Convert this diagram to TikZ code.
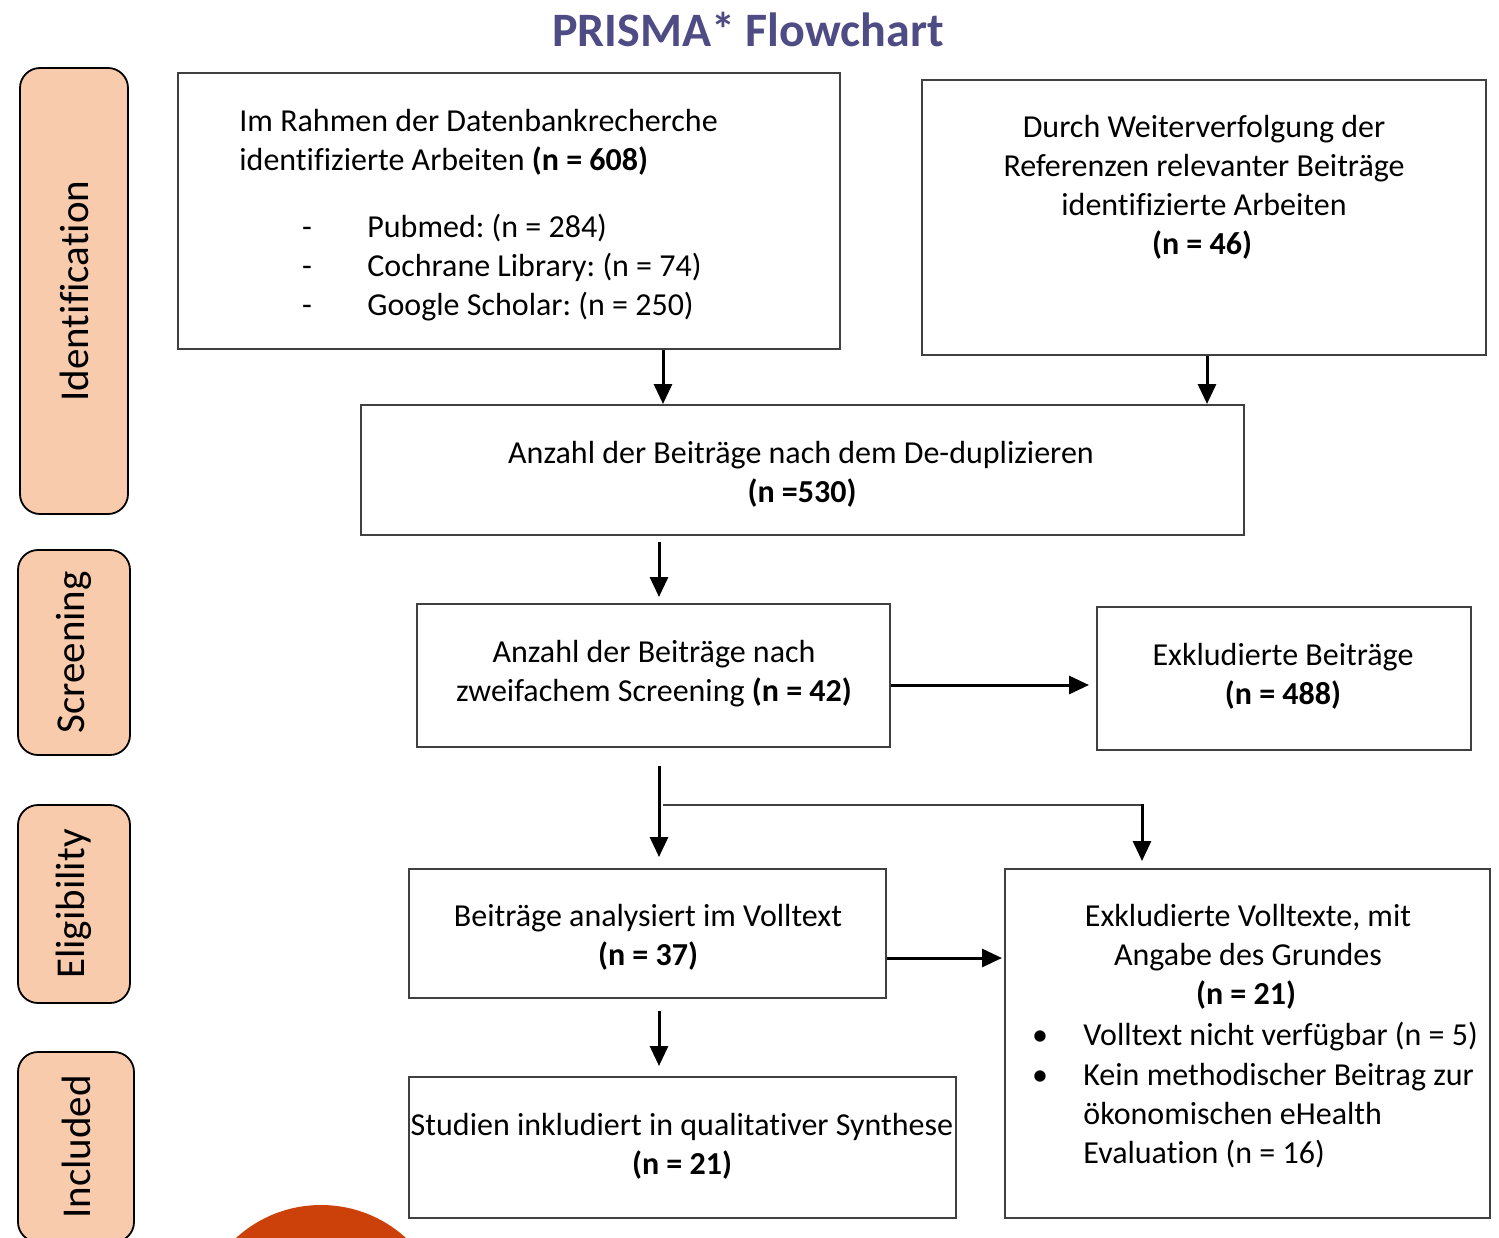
\documentclass[tikz,border=0pt]{standalone}
\usepackage{fontspec}
\setmainfont[Ligatures=NoCommon]{Carlito}
\usetikzlibrary{arrows.meta}
\frenchspacing
\definecolor{peach}{HTML}{F8CBAD}
\definecolor{titleblue}{RGB}{78,75,133}
\definecolor{boxgray}{HTML}{404040}
\definecolor{circorange}{HTML}{CC4109}
\tikzset{
  box/.style={draw=boxgray, line width=1pt, inner sep=0pt},
  side/.style={draw=black, line width=0.9pt, fill=peach, rounded corners=10pt, inner sep=0pt,
    font=\fontsize{20.5}{24}\selectfont, text=black},
  txt/.style={font=\fontsize{16}{19.5}\selectfont, anchor=base, inner sep=0pt},
  txtl/.style={txt, anchor=base west},
  arr/.style={line width=1.5pt, -{Triangle[width=9pt,length=10pt]}},
  branch/.style={line width=1pt, draw=black!75}
}
\begin{document}
\begin{tikzpicture}[x=0.5pt,y=-0.5pt]
\useasboundingbox (0,0) rectangle (1499,1237);

% title
\node[font=\fontsize{24}{28}\selectfont\bfseries, text=titleblue, inner sep=0pt] (title) at (748,30) {PRISMA* Flowchart};

% side labels
\node[side, minimum width=54pt, minimum height=223pt] (ident) at (74,291) {\rotatebox{90}{Identification}};
\node[side, minimum width=56pt, minimum height=102.5pt] (screen) at (74,652.5) {\rotatebox{90}{Screening}};
\node[side, minimum width=56pt, minimum height=99pt] (elig) at (74,904) {\rotatebox{90}{Eligibility}};
\node[side, minimum width=58pt, minimum height=95pt] (incl) at (76,1147) {\rotatebox{90}{Included}};

% orange circle
\fill[circorange] (321,1331) circle[radius=63pt];

% boxes
\node[box, minimum width=331pt, minimum height=138pt] (b1) at (509,211) {};
\node[box, minimum width=282pt, minimum height=137.5pt] (b2) at (1204,217.5) {};
\node[box, minimum width=441.5pt, minimum height=65pt] (b3) at (802.5,470) {};
\node[box, minimum width=236.5pt, minimum height=71.5pt] (b4) at (653.5,675.5) {};
\node[box, minimum width=187pt, minimum height=71.5pt] (b5) at (1284,678.5) {};
\node[box, minimum width=238.5pt, minimum height=64.5pt] (b6) at (647.5,933.5) {};
\node[box, minimum width=242.5pt, minimum height=174.5pt] (b7) at (1247.5,1043.5) {};
\node[box, minimum width=273.5pt, minimum height=70.5pt] (b8) at (682.5,1147.5) {};

% box 1 text
\node[txtl] (t11) at (239,131) {Im Rahmen der Datenbankrecherche};
\node[txtl] (t12) at (239,170) {identifizierte Arbeiten \textbf{(n = 608)}};
\node[txt] (d1) at (307,237) {-};
\node[txt] (d2) at (307,276) {-};
\node[txt] (d3) at (307,315) {-};
\node[txtl] (t13) at (367,237) {Pubmed: (n = 284)};
\node[txtl] (t14) at (367,276) {Cochrane Library: (n = 74)};
\node[txtl] (t15) at (367,315) {Google Scholar: (n = 250)};

% box 2 text
\node[txt] (t21) at (1204,137) {Durch Weiterverfolgung der};
\node[txt] (t22) at (1204,176) {Referenzen relevanter Beiträge};
\node[txt] (t23) at (1204,215) {identifizierte Arbeiten};
\node[txt] (t24) at (1202,254) {\textbf{(n = 46)}};

% box 3 text
\node[txt] (t31) at (801,463) {Anzahl der Beiträge nach dem De-duplizieren};
\node[txt] (t32) at (802,502) {\textbf{(n =530)}};

% box 4 text
\node[txt] (t41) at (654,662) {Anzahl der Beiträge nach};
\node[txt] (t42) at (654,701) {zweifachem Screening \textbf{(n = 42)}};

% box 5 text
\node[txt] (t51) at (1283,665) {Exkludierte Beiträge};
\node[txt] (t52) at (1283,704) {\textbf{(n = 488)}};

% box 6 text
\node[txt] (t61) at (648,926) {Beiträge analysiert im Volltext};
\node[txt] (t62) at (648,965) {\textbf{(n = 37)}};

% box 7 text
\node[txt] (t71) at (1248,926) {Exkludierte Volltexte, mit};
\node[txt] (t72) at (1248,965) {Angabe des Grundes};
\node[txt] (t73) at (1246,1004) {\textbf{(n = 21)}};
\node[txt] (bu1) at (1040,1045) {•};
\node[txt] (bu2) at (1040,1085) {•};
\node[txtl] (t74) at (1083,1045) {Volltext nicht verfügbar (n = 5)};
\node[txtl] (t75) at (1083,1085) {Kein methodischer Beitrag zur};
\node[txtl] (t76) at (1083,1124) {ökonomischen eHealth};
\node[txtl] (t77) at (1083,1163) {Evaluation (n = 16)};

% box 8 text
\node[txt] (t81) at (682,1135) {Studien inkludiert in qualitativer Synthese};
\node[txt] (t82) at (682,1174) {\textbf{(n = 21)}};

% connectors
\coordinate (xa) at (663,0);
\coordinate (xb) at (1207,0);
\coordinate (xc) at (659,0);
\coordinate (xd) at (1142,0);
\coordinate (ya) at (0,685);
\coordinate (yb) at (0,958);
\coordinate (br) at (663,805);

\draw[arr] (b1.south -| xa) -- (b3.north -| xa);
\draw[arr] (b2.south -| xb) -- (b3.north -| xb);
\draw[arr] ([yshift=-3pt]b3.south -| xc) -- ([yshift=3pt]b4.north -| xc);
\draw[arr] (b4.east |- ya) -- ([xshift=-3.5pt]b5.west |- ya);
\draw[arr] ([yshift=-9pt]b4.south -| xc) -- ([yshift=5.5pt]b6.north -| xc);
\draw[branch] (br) -- (br -| xd);
\draw[arr] ([yshift=0.5pt]br -| xd) -- ([yshift=3.5pt]b7.north -| xd);
\draw[arr] (b6.east |- yb) -- ([xshift=-1pt]b7.west |- yb);
\draw[arr] ([yshift=-6pt]b6.south -| xc) -- ([yshift=5pt]b8.north -| xc);
\end{tikzpicture}
\end{document}
